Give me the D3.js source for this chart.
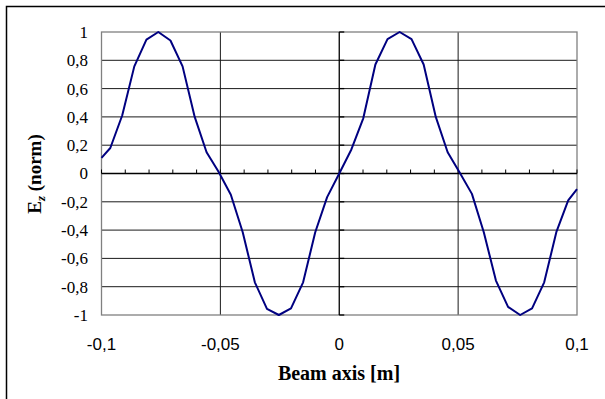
<html>
<script src="https://d3js.org/d3.v7.min.js"></script>
<style>
    body { margin: 0; background: #fff; }
    svg { display: block; }
</style>
<body>
<svg id="chart"></svg>
<script>
    // beam axis positions [m] and normalised field Ez
    var beamX = [-0.1, -0.0963, -0.0913, -0.0862, -0.0811, -0.0761, -0.071, -0.0659, -0.0608, -0.0558,
        -0.0507, -0.0456, -0.0406, -0.0355, -0.0304, -0.0254, -0.0203, -0.0152, -0.0101, -0.0051,
        0, 0.0051, 0.0101, 0.0152, 0.0203, 0.0254, 0.0304, 0.0355, 0.0406, 0.0456,
        0.0507, 0.0558, 0.0608, 0.0659, 0.071, 0.0761, 0.0811, 0.0862, 0.0913, 0.0963, 0.1];
    var fieldEz = [0.11, 0.18, 0.41, 0.757, 0.946, 1, 0.94, 0.757, 0.4, 0.15,
        0.01, -0.15, -0.415, -0.769, -0.957, -1, -0.953, -0.769, -0.415, -0.167,
        0, 0.17, 0.39, 0.77, 0.95, 1, 0.95, 0.77, 0.4, 0.15,
        0.005, -0.144, -0.415, -0.757, -0.943, -1, -0.953, -0.769, -0.415, -0.19, -0.11];
    var xTicks = [-0.1, -0.05, 0, 0.05, 0.1];
    var yTicks = [-1, -0.8, -0.6, -0.4, -0.2, 0, 0.2, 0.4, 0.6, 0.8, 1];
    var xMinor = d3.range(-10, 11).map(function (d) { return d / 100; });

    var width = 605, height = 399;
    var fmt = function (d) { return String(d).replace(".", ","); };

    var svg = d3.select("#chart")
        .attr("width", width)
        .attr("height", height);

    // chart area border (right and bottom fall outside the picture)
    svg.append("rect")
        .attr("x", 6.5).attr("y", 6.5)
        .attr("width", width).attr("height", height)
        .attr("fill", "#fff")
        .attr("stroke", "#000")
        .attr("stroke-width", 1.5);

    var x = d3.scaleLinear().domain([-0.1, 0.1]).range([101.5, 577]);
    var y = d3.scaleLinear().domain([-1, 1]).range([315, 32]);

    // horizontal grid
    svg.append("g")
        .selectAll("line")
        .data(yTicks.filter(function (d) { return d != 0 && d != 1 && d != -1; }))
        .enter()
        .append("line")
        .attr("x1", x(-0.1)).attr("x2", x(0.1))
        .attr("y1", function (d) { return y(d); })
        .attr("y2", function (d) { return y(d); })
        .attr("stroke", "#1a1a1a")
        .attr("stroke-width", 1);

    // vertical grid
    svg.append("g")
        .selectAll("line")
        .data([-0.05, 0.05])
        .enter()
        .append("line")
        .attr("y1", y(-1)).attr("y2", y(1))
        .attr("x1", function (d) { return x(d); })
        .attr("x2", function (d) { return x(d); })
        .attr("stroke", "#1a1a1a")
        .attr("stroke-width", 1);

    // plot area border
    svg.append("rect")
        .attr("x", x(-0.1)).attr("y", y(1))
        .attr("width", x(0.1) - x(-0.1))
        .attr("height", y(-1) - y(1))
        .attr("fill", "none")
        .attr("stroke", "#808080")
        .attr("stroke-width", 1.3);

    // x axis through y = 0, minor ticks pointing up
    svg.append("line")
        .attr("x1", x(-0.1)).attr("x2", x(0.1))
        .attr("y1", y(0)).attr("y2", y(0))
        .attr("stroke", "#000").attr("stroke-width", 1.3);
    svg.append("g")
        .selectAll("line")
        .data(xMinor)
        .enter()
        .append("line")
        .attr("x1", function (d) { return x(d); })
        .attr("x2", function (d) { return x(d); })
        .attr("y1", y(0)).attr("y2", y(0) - 4)
        .attr("stroke", "#000").attr("stroke-width", 1);

    // y axis through x = 0, ticks to the right
    svg.append("line")
        .attr("x1", x(0)).attr("x2", x(0))
        .attr("y1", y(-1)).attr("y2", y(1))
        .attr("stroke", "#000").attr("stroke-width", 1.3);
    svg.append("g")
        .selectAll("line")
        .data(yTicks)
        .enter()
        .append("line")
        .attr("x1", x(0)).attr("x2", x(0) + 5)
        .attr("y1", function (d) { return y(d); })
        .attr("y2", function (d) { return y(d); })
        .attr("stroke", "#000").attr("stroke-width", 1.3);

    // field curve
    var pts = beamX.map(function (d, i) { return [d, fieldEz[i]]; });
    svg.append("path")
        .datum(pts)
        .attr("fill", "none")
        .attr("stroke", "#000080")
        .attr("stroke-width", 2)
        .attr("stroke-linejoin", "round")
        .attr("d", d3.line()
            .x(function (d) { return x(d[0]); })
            .y(function (d) { return y(d[1]); }));

    // y tick labels (serif)
    svg.append("g")
        .selectAll("text")
        .data(yTicks)
        .enter()
        .append("text")
        .attr("x", 88)
        .attr("y", function (d) { return y(d); })
        .attr("dy", "0.35em")
        .attr("text-anchor", "end")
        .style("font-family", "'Liberation Serif', 'Times New Roman', serif")
        .style("font-size", "17px")
        .text(fmt);

    // x tick labels (sans)
    svg.append("g")
        .selectAll("text")
        .data(xTicks)
        .enter()
        .append("text")
        .attr("x", function (d) { return x(d); })
        .attr("y", 350)
        .attr("text-anchor", "middle")
        .style("font-family", "'Liberation Sans', Arial, sans-serif")
        .style("font-size", "17px")
        .text(fmt);

    // axis titles
    svg.append("text")
        .attr("x", 339)
        .attr("y", 380)
        .attr("text-anchor", "middle")
        .style("font-family", "'Liberation Serif', 'Times New Roman', serif")
        .style("font-size", "20px")
        .style("font-weight", "bold")
        .text("Beam axis [m]");

    var yTitle = svg.append("text")
        .attr("transform", "translate(41,174) rotate(-90)")
        .attr("text-anchor", "middle")
        .style("font-family", "'Liberation Serif', 'Times New Roman', serif")
        .style("font-size", "19px")
        .style("font-weight", "bold");
    yTitle.append("tspan").text("E");
    yTitle.append("tspan")
        .attr("dy", 4)
        .style("font-size", "13px")
        .style("font-style", "italic")
        .text("z");
    yTitle.append("tspan").attr("dy", -4).text(" (norm)");
</script>
</body>
</html>
